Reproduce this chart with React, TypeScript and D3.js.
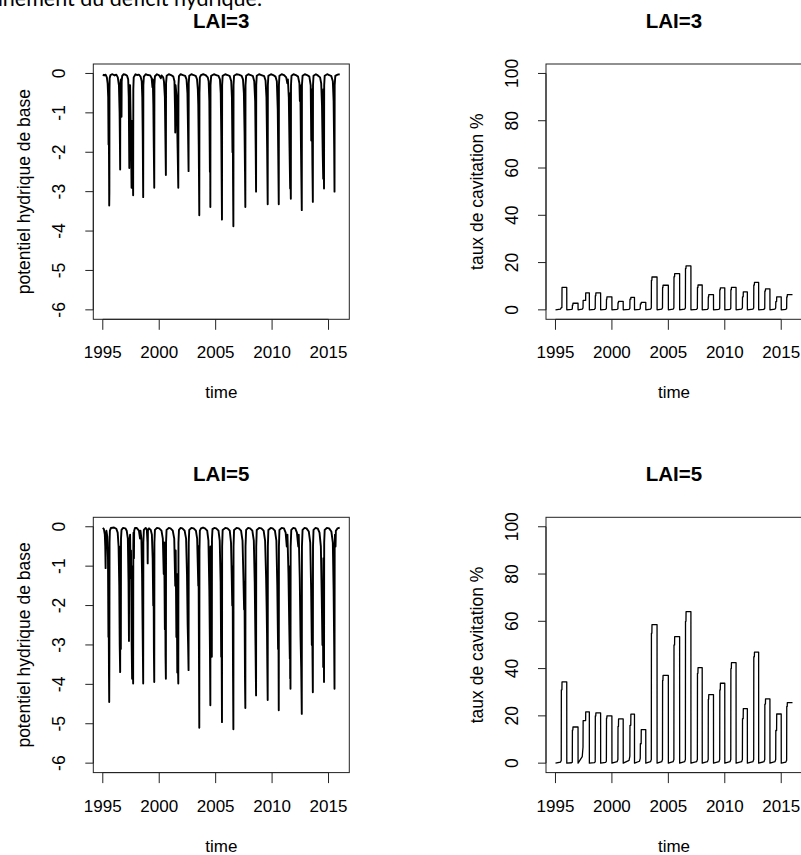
import React from 'react';
import * as d3 from 'd3';

type P = [number, number];

const xTicks = [1995, 2000, 2005, 2010, 2015];
const psiTicks = [0, -1, -2, -3, -4, -5, -6];
const cavTicks = [0, 20, 40, 60, 80, 100];
const psiLimits: P = [-6, 0];
const cavLimits: P = [0, 100];
const titles = ['LAI=3', 'LAI=3', 'LAI=5', 'LAI=5'];
const yLabels = ['potentiel hydrique de base', 'taux de cavitation %'];
const xLabel = 'time';
const headerText = 'fonctionnement du déficit hydrique.';

// base water potential, LAI=3 (MPa) — vertices
const psiLai3: P[] = [
  [1995.0, -0.03], [1995.12, -0.05], [1995.25, -0.03], [1995.36, -0.1], [1995.43, -0.25], [1995.48, -0.6], [1995.51, -1.8], [1995.53, -0.9], [1995.56, -2.6], [1995.57, -3.35], [1995.585, -3.0], [1995.595, -0.4], [1995.61, -0.12], [1995.68, -0.04], [1995.85, -0.02],
  [1996.05, -0.05], [1996.2, -0.03], [1996.33, -0.1], [1996.43, -0.3], [1996.49, -1.0], [1996.52, -1.8], [1996.54, -2.44], [1996.555, -0.3], [1996.6, -0.15], [1996.64, -0.6], [1996.66, -1.1], [1996.675, -0.2], [1996.72, -0.06], [1996.85, -0.02],
  [1997.0, -0.03], [1997.15, -0.06], [1997.25, -0.15], [1997.3, -0.6], [1997.35, -2.4], [1997.37, -0.3], [1997.42, -0.3], [1997.47, -1.2], [1997.52, -2.2], [1997.55, -2.9], [1997.57, -1.5], [1997.6, -2.7], [1997.63, -1.2], [1997.66, -2.5], [1997.69, -3.09], [1997.705, -0.4], [1997.74, -0.1], [1997.9, -0.02],
  [1998.05, -0.04], [1998.2, -0.03], [1998.35, -0.08], [1998.45, -0.2], [1998.5, -0.6], [1998.54, -1.6], [1998.58, -3.14], [1998.595, -0.3], [1998.64, -0.08], [1998.8, -0.02],
  [1999.0, -0.04], [1999.2, -0.05], [1999.33, -0.12], [1999.4, -0.35], [1999.43, -0.15], [1999.48, -0.8], [1999.52, -1.9], [1999.56, -2.9], [1999.575, -0.3], [1999.62, -0.07], [1999.8, -0.02],
  [2000.0, -0.05], [2000.15, -0.12], [2000.2, -0.05], [2000.35, -0.1], [2000.42, -0.2], [2000.5, -0.6], [2000.55, -1.7], [2000.59, -2.58], [2000.605, -0.25], [2000.66, -0.06], [2000.85, -0.02],
  [2001.05, -0.04], [2001.25, -0.08], [2001.35, -0.2], [2001.4, -0.9], [2001.42, -1.5], [2001.45, -0.3], [2001.55, -0.6], [2001.63, -1.9], [2001.69, -2.9], [2001.705, -0.3], [2001.75, -0.07], [2001.9, -0.02],
  [2002.1, -0.04], [2002.3, -0.06], [2002.42, -0.15], [2002.5, -0.5], [2002.55, -1.4], [2002.6, -2.48], [2002.615, -0.25], [2002.66, -0.06], [2002.85, -0.02],
  [2003.05, -0.04], [2003.25, -0.07], [2003.35, -0.15], [2003.42, -0.4], [2003.46, -0.8], [2003.5, -1.8], [2003.55, -3.6], [2003.565, -0.5], [2003.6, -0.1], [2003.7, -0.04], [2003.9, -0.02],
  [2004.1, -0.04], [2004.3, -0.1], [2004.38, -0.2], [2004.44, -0.7], [2004.49, -2.5], [2004.51, -1.0], [2004.53, -3.39], [2004.545, -0.3], [2004.6, -0.06], [2004.85, -0.02],
  [2005.05, -0.04], [2005.25, -0.06], [2005.38, -0.15], [2005.45, -0.5], [2005.5, -1.6], [2005.56, -3.71], [2005.575, -0.3], [2005.62, -0.06], [2005.85, -0.02],
  [2006.05, -0.04], [2006.25, -0.07], [2006.38, -0.2], [2006.44, -0.6], [2006.49, -2.0], [2006.51, -0.6], [2006.54, -2.7], [2006.57, -3.88], [2006.585, -0.3], [2006.63, -0.06], [2006.85, -0.02],
  [2007.05, -0.03], [2007.3, -0.06], [2007.42, -0.15], [2007.5, -0.5], [2007.56, -1.5], [2007.6, -2.5], [2007.63, -3.39], [2007.645, -0.3], [2007.7, -0.06], [2007.9, -0.02],
  [2008.1, -0.04], [2008.3, -0.07], [2008.42, -0.2], [2008.5, -0.7], [2008.55, -2.0], [2008.58, -3.0], [2008.595, -0.3], [2008.64, -0.06], [2008.85, -0.02],
  [2009.05, -0.04], [2009.3, -0.07], [2009.42, -0.18], [2009.5, -0.6], [2009.56, -1.9], [2009.61, -3.32], [2009.625, -0.3], [2009.67, -0.06], [2009.9, -0.02],
  [2010.1, -0.04], [2010.3, -0.08], [2010.42, -0.2], [2010.5, -0.9], [2010.55, -2.2], [2010.59, -3.32], [2010.605, -0.3], [2010.65, -0.06], [2010.85, -0.02],
  [2011.05, -0.04], [2011.25, -0.1], [2011.35, -0.25], [2011.4, -0.15], [2011.48, -0.6], [2011.54, -1.8], [2011.6, -2.92], [2011.61, -0.5], [2011.63, -2.4], [2011.66, -3.18], [2011.675, -0.3], [2011.72, -0.06], [2011.9, -0.02],
  [2012.1, -0.04], [2012.3, -0.08], [2012.42, -0.25], [2012.46, -0.7], [2012.5, -0.3], [2012.56, -1.9], [2012.63, -3.47], [2012.645, -0.3], [2012.7, -0.06], [2012.9, -0.02],
  [2013.1, -0.04], [2013.3, -0.08], [2013.42, -0.3], [2013.47, -1.7], [2013.49, -0.4], [2013.53, -0.9], [2013.57, -2.3], [2013.61, -3.26], [2013.625, -0.3], [2013.67, -0.06], [2013.88, -0.02],
  [2014.05, -0.05], [2014.25, -0.1], [2014.35, -0.25], [2014.42, -0.8], [2014.49, -2.1], [2014.53, -2.67], [2014.545, -0.4], [2014.57, -1.5], [2014.6, -2.92], [2014.615, -0.3], [2014.66, -0.06], [2014.88, -0.02],
  [2015.05, -0.04], [2015.25, -0.07], [2015.38, -0.2], [2015.45, -0.7], [2015.5, -1.9], [2015.53, -3.0], [2015.545, -0.3], [2015.6, -0.06], [2015.8, -0.03], [2015.99, -0.02],
];

// base water potential, LAI=5 (MPa)
const psiLai5: P[] = [
  [1995.0, -0.03], [1995.1, -0.06], [1995.18, -0.2], [1995.22, -0.5], [1995.25, -1.05], [1995.27, -0.3], [1995.32, -0.1], [1995.4, -0.25], [1995.46, -0.8], [1995.5, -2.8], [1995.52, -1.9], [1995.55, -3.8], [1995.57, -4.45], [1995.585, -3.2], [1995.6, -0.4], [1995.63, -0.1], [1995.72, -0.03],
  [1996.0, -0.02], [1996.2, -0.05], [1996.32, -0.15], [1996.4, -0.5], [1996.46, -1.5], [1996.5, -3.0], [1996.54, -3.69], [1996.555, -0.5], [1996.58, -1.5], [1996.6, -3.1], [1996.615, -0.3], [1996.66, -0.08], [1996.8, -0.03],
  [1997.0, -0.04], [1997.12, -0.1], [1997.22, -0.3], [1997.28, -1.4], [1997.32, -2.9], [1997.34, -0.5], [1997.38, -0.3], [1997.42, -0.2], [1997.47, -1.3], [1997.5, -0.6], [1997.56, -3.0], [1997.6, -3.86], [1997.62, -1.0], [1997.66, -3.4], [1997.69, -3.98], [1997.705, -0.5], [1997.72, -0.15], [1997.76, -0.8], [1997.78, -0.1], [1997.85, -0.03],
  [1998.0, -0.03], [1998.2, -0.1], [1998.3, -0.3], [1998.34, -0.1], [1998.42, -0.3], [1998.48, -1.2], [1998.53, -2.6], [1998.58, -3.98], [1998.595, -0.4], [1998.64, -0.08], [1998.8, -0.03],
  [1998.9, -0.06], [1998.96, -0.4], [1998.98, -0.93], [1999.0, -0.1], [1999.1, -0.04], [1999.25, -0.08], [1999.35, -0.2], [1999.42, -0.8], [1999.47, -2.0], [1999.5, -1.2], [1999.53, -3.2], [1999.56, -3.94], [1999.575, -0.4], [1999.62, -0.08], [1999.8, -0.03],
  [2000.0, -0.04], [2000.2, -0.1], [2000.32, -0.3], [2000.4, -1.2], [2000.44, -0.4], [2000.5, -2.6], [2000.53, -1.5], [2000.56, -3.3], [2000.59, -3.86], [2000.605, -0.4], [2000.65, -0.08], [2000.85, -0.03],
  [2001.0, -0.04], [2001.2, -0.1], [2001.33, -0.3], [2001.42, -1.5], [2001.46, -0.6], [2001.52, -2.8], [2001.56, -1.8], [2001.6, -3.7], [2001.62, -1.2], [2001.66, -3.5], [2001.69, -3.98], [2001.705, -0.4], [2001.75, -0.08], [2001.9, -0.03],
  [2002.05, -0.04], [2002.25, -0.1], [2002.38, -0.3], [2002.46, -1.2], [2002.52, -2.5], [2002.56, -3.0], [2002.6, -3.64], [2002.615, -0.4], [2002.66, -0.08], [2002.85, -0.03],
  [2003.05, -0.04], [2003.25, -0.1], [2003.36, -0.3], [2003.42, -1.0], [2003.46, -1.5], [2003.48, -0.5], [2003.52, -3.2], [2003.55, -5.1], [2003.565, -0.6], [2003.6, -0.1], [2003.7, -0.04], [2003.88, -0.02],
  [2004.05, -0.04], [2004.25, -0.1], [2004.36, -0.35], [2004.44, -1.6], [2004.49, -3.0], [2004.53, -4.53], [2004.545, -0.5], [2004.6, -1.2], [2004.66, -3.3], [2004.675, -0.3], [2004.72, -0.06], [2004.88, -0.03],
  [2005.05, -0.04], [2005.25, -0.1], [2005.36, -0.35], [2005.44, -1.4], [2005.49, -3.3], [2005.51, -2.0], [2005.56, -4.96], [2005.575, -0.5], [2005.62, -0.08], [2005.85, -0.03],
  [2006.05, -0.04], [2006.25, -0.1], [2006.36, -0.4], [2006.42, -1.2], [2006.47, -2.0], [2006.5, -1.0], [2006.54, -3.8], [2006.57, -5.14], [2006.585, -0.5], [2006.63, -0.08], [2006.85, -0.03],
  [2007.05, -0.04], [2007.25, -0.1], [2007.38, -0.35], [2007.46, -1.3], [2007.52, -2.1], [2007.55, -1.4], [2007.6, -3.9], [2007.63, -4.6], [2007.645, -0.5], [2007.7, -0.08], [2007.88, -0.03],
  [2008.05, -0.04], [2008.25, -0.1], [2008.38, -0.35], [2008.46, -1.4], [2008.53, -3.0], [2008.58, -4.28], [2008.595, -0.5], [2008.64, -0.08], [2008.85, -0.03],
  [2009.05, -0.04], [2009.25, -0.1], [2009.38, -0.35], [2009.47, -1.3], [2009.52, -2.1], [2009.55, -2.7], [2009.58, -3.6], [2009.61, -4.4], [2009.625, -0.5], [2009.67, -0.08], [2009.88, -0.03],
  [2010.05, -0.04], [2010.25, -0.1], [2010.38, -0.35], [2010.46, -1.5], [2010.53, -3.1], [2010.56, -2.2], [2010.59, -4.66], [2010.605, -0.5], [2010.65, -0.08], [2010.85, -0.03],
  [2011.05, -0.04], [2011.2, -0.15], [2011.3, -0.5], [2011.36, -0.2], [2011.45, -1.2], [2011.52, -2.5], [2011.57, -3.35], [2011.585, -1.0], [2011.6, -3.85], [2011.615, -1.5], [2011.63, -4.11], [2011.645, -0.5], [2011.7, -0.08], [2011.88, -0.03],
  [2012.05, -0.04], [2012.2, -0.15], [2012.32, -0.5], [2012.36, -0.2], [2012.45, -1.3], [2012.52, -2.8], [2012.58, -3.6], [2012.63, -4.75], [2012.645, -0.5], [2012.7, -0.08], [2012.88, -0.03],
  [2013.05, -0.04], [2013.25, -0.12], [2013.38, -0.4], [2013.46, -1.6], [2013.52, -3.0], [2013.55, -1.8], [2013.58, -3.3], [2013.61, -4.2], [2013.625, -0.5], [2013.67, -0.08], [2013.85, -0.03],
  [2014.05, -0.05], [2014.2, -0.15], [2014.32, -0.5], [2014.4, -1.8], [2014.46, -3.0], [2014.5, -2.2], [2014.53, -3.56], [2014.545, -0.8], [2014.57, -2.5], [2014.6, -3.94], [2014.615, -0.4], [2014.66, -0.08], [2014.85, -0.03],
  [2015.05, -0.04], [2015.25, -0.12], [2015.38, -0.4], [2015.45, -1.6], [2015.5, -3.0], [2015.53, -4.11], [2015.545, -0.5], [2015.57, -0.2], [2015.62, -0.5], [2015.65, -0.1], [2015.8, -0.04], [2015.99, -0.02],
];

// cavitation rate (%), one summer step per year, reset at the new year
const cavYears = [1995, 1996, 1997, 1998, 1999, 2000, 2001, 2002, 2003, 2004, 2005, 2006, 2007, 2008, 2009, 2010, 2011, 2012, 2013, 2014, 2015];
const cavStep1Time = [1995.52, 1996.5, 1997.45, 1998.53, 1999.52, 2000.54, 2001.6, 2002.52, 2003.5, 2004.49, 2005.5, 2006.52, 2007.58, 2008.54, 2009.56, 2010.54, 2011.57, 2012.57, 2013.55, 2014.52, 2015.49];
const cavStep2Time = [1995.58, 1996.55, 1997.68, 1998.58, 1999.56, 2000.59, 2001.68, 2002.6, 2003.55, 2004.53, 2005.56, 2006.57, 2007.63, 2008.58, 2009.61, 2010.59, 2011.64, 2012.63, 2013.61, 2014.6, 2015.54];
const cavLai3Low = [0.8, 0.4, 0.8, 0.6, 0.6, 0.5, 0.6, 0.5, 0.8, 0.8, 0.8, 0.8, 0.6, 0.6, 0.6, 0.6, 0.8, 0.8, 0.6, 0.8, 0.6];
const cavLai3Pre = [1.0, 2.0, 4.0, 6.0, 4.5, 3.0, 4.5, 2.5, 12.5, 9.5, 14.0, 17.5, 9.5, 5.5, 8.5, 8.5, 5.5, 10.5, 8.0, 3.5, 5.5];
const cavLai3Peak = [9.5, 2.8, 7.2, 7.2, 5.5, 3.6, 5.3, 3.2, 13.9, 10.4, 15.3, 18.6, 10.5, 6.4, 9.3, 9.5, 7.6, 11.6, 8.9, 5.5, 6.4];
const cavLai5Low = [1.1, 0.4, 6.8, 0.6, 0.8, 1.5, 3.0, 2.0, 1.5, 1.5, 1.5, 1.5, 1.5, 1.5, 1.5, 1.5, 1.5, 1.5, 1.5, 1.5, 1.2];
const cavLai5Pre = [31, 14, 18, 20, 19, 15.5, 16, 8.2, 55, 35, 50, 60, 38, 27, 31, 40, 18.8, 45, 25, 13.8, 24];
const cavLai5Peak = [34.4, 15.3, 21.7, 21.3, 20.0, 18.7, 20.7, 14.2, 58.6, 37.1, 53.5, 64.1, 40.4, 29.0, 33.8, 42.5, 23.1, 47.0, 27.2, 20.8, 25.6];

function cavSeries(low: number[], pre: number[], peak: number[]): P[] {
  const pts: P[] = [];
  cavYears.forEach((yr, i) => {
    pts.push([yr + 0.002, 0]);
    pts.push([cavStep1Time[i] - 0.08, low[i] * 0.4]);
    pts.push([cavStep1Time[i] - 0.01, low[i]]);
    pts.push([cavStep1Time[i], pre[i]]);
    pts.push([cavStep2Time[i] - 0.01, pre[i]]);
    pts.push([cavStep2Time[i], peak[i]]);
    pts.push([yr + 0.998, peak[i]]);
  });
  return pts;
}

const FONT = "'Liberation Sans', Arial, Helvetica, sans-serif";
const W = 256;
const H = 255.3;

function pad([a, b]: P): P {
  const r = b - a;
  return [a - 0.04 * r, b + 0.04 * r];
}

function Panel(props: {
  left: number; top: number; data: P[]; limits: P; ticks: number[]; title: string; ylab: string; sw: number;
}) {
  const { left, top, data, limits, ticks, title, ylab, sw } = props;
  const ext = d3.extent(data, (d) => d[0]) as P;
  const x = d3.scaleLinear().domain(pad([Math.floor(ext[0]), Math.round(ext[1])])).range([left, left + W]);
  const y = d3.scaleLinear().domain(pad(limits)).range([top + H, top]);
  const line = d3.line<P>().x((d) => x(d[0])).y((d) => y(d[1]));
  const bottom = top + H;
  const yMin = d3.min(ticks)!;
  const yMax = d3.max(ticks)!;
  return (
    <g fontFamily={FONT} fill="#000">
      <text x={left + W / 2} y={top - 36} textAnchor="middle" fontWeight="bold" fontSize={20.5}>{title}</text>
      <path d={line(data) || ''} fill="none" stroke="#000" strokeWidth={sw} strokeLinejoin="round" />
      <rect x={left} y={top} width={W} height={H} fill="none" stroke="#222" strokeWidth={1} />
      <line x1={left} x2={left} y1={y(yMin)} y2={y(yMax)} stroke="#222" />
      {ticks.map((t) => (
        <g key={'y' + t}>
          <line x1={left - 8} x2={left} y1={y(t)} y2={y(t)} stroke="#222" />
          <text transform={`translate(${left - 28},${y(t)}) rotate(-90)`} textAnchor="middle" fontSize={17.5}>{String(t)}</text>
        </g>
      ))}
      <text transform={`translate(${left - 63},${top + H / 2}) rotate(-90)`} textAnchor="middle" fontSize={17.5}>{ylab}</text>
      <line x1={x(xTicks[0])} x2={x(xTicks[xTicks.length - 1])} y1={bottom} y2={bottom} stroke="#222" />
      {xTicks.map((t) => (
        <g key={'x' + t}>
          <line x1={x(t)} x2={x(t)} y1={bottom} y2={bottom + 10.5} stroke="#222" />
          <text x={x(t)} y={bottom + 39} textAnchor="middle" fontSize={17}>{String(t)}</text>
        </g>
      ))}
      <text x={left + W / 2} y={bottom + 79} textAnchor="middle" fontSize={17}>{xLabel}</text>
    </g>
  );
}

export default function App() {
  const cav3 = cavSeries(cavLai3Low, cavLai3Pre, cavLai3Peak);
  const cav5 = cavSeries(cavLai5Low, cavLai5Pre, cavLai5Peak);
  const L = 93.3;
  const R = 546;
  const T1 = 64;
  const T2 = 517.3;
  return (
    <svg width={801} height={855} style={{ position: 'absolute', left: 0, top: 0, background: '#fff' }}>
      <rect x={0} y={0} width={801} height={855} fill="#fff" />
      <text x={262} y={6} textAnchor="end" fontFamily="Lato, 'Open Sans', sans-serif" fontSize={21.5} fill="#000">{headerText}</text>
      <Panel left={L} top={T1} data={psiLai3} limits={psiLimits} ticks={psiTicks} title={titles[0]} ylab={yLabels[0]} sw={1.9} />
      <Panel left={R} top={T1} data={cav3} limits={cavLimits} ticks={cavTicks} title={titles[1]} ylab={yLabels[1]} sw={1.3} />
      <Panel left={L} top={T2} data={psiLai5} limits={psiLimits} ticks={psiTicks} title={titles[2]} ylab={yLabels[0]} sw={1.9} />
      <Panel left={R} top={T2} data={cav5} limits={cavLimits} ticks={cavTicks} title={titles[3]} ylab={yLabels[1]} sw={1.3} />
    </svg>
  );
}
